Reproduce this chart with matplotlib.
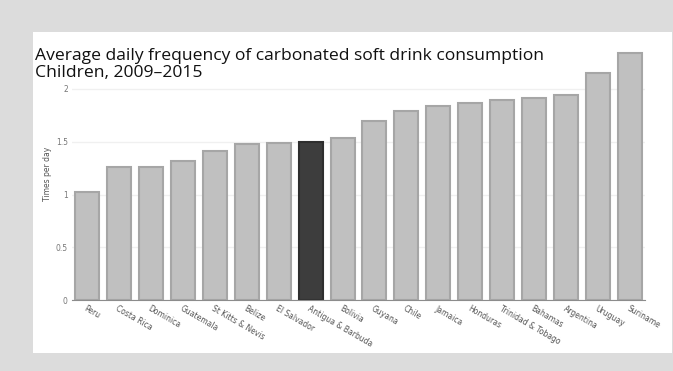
import matplotlib
matplotlib.use("Agg")
import matplotlib.pyplot as plt
from matplotlib.patches import Rectangle

# Average daily carbonated soft drink frequency, children 2009-2015
countries = ["Peru", "Costa Rica", "Dominica", "Guatemala", "St Kitts & Nevis",
             "Belize", "El Salvador", "Antigua & Barbuda", "Bolivia", "Guyana",
             "Chile", "Jamaica", "Honduras", "Trinidad & Tobago", "Bahamas",
             "Argentina", "Uruguay", "Suriname"]
times_per_day = [1.02, 1.26, 1.26, 1.32, 1.41, 1.48, 1.49, 1.50, 1.54, 1.70,
                 1.79, 1.84, 1.87, 1.90, 1.91, 1.94, 2.15, 2.34]
highlight = "Antigua & Barbuda"

W, H = 673, 371
fig = plt.figure(figsize=(W / 100, H / 100), dpi=100)
fig.patch.set_facecolor("#dcdcdc")

# white card behind the chart
fig.add_artist(Rectangle((33 / W, (H - 353) / H), (672 - 33) / W, (353 - 32) / H,
                         transform=fig.transFigure, facecolor="white",
                         edgecolor="none", zorder=0))

ax_left, ax_right = 72, 645
ax_top, ax_bot = 46.8, 300
ax = fig.add_axes([ax_left / W, (H - ax_bot) / H,
                   (ax_right - ax_left) / W, (ax_bot - ax_top) / H])
ax.set_facecolor("none")

x = range(len(countries))
colors = ["#3d3d3d" if c == highlight else "#c0c0c0" for c in countries]
edges = ["#2e2e2e" if c == highlight else "#a6a6a6" for c in countries]
ax.bar(x, times_per_day, width=0.75, color=colors, edgecolor=edges,
       linewidth=1.5, zorder=2)

ax.set_xlim(-0.47, len(countries) - 0.53)
ax.set_ylim(0, 2.4)
ax.set_yticks([0, 0.5, 1, 1.5, 2])
ax.set_yticklabels(["0", "0.5", "1", "1.5", "2"])
ax.grid(axis="y", color="#f0f0f0", linewidth=1, zorder=0)
ax.set_axisbelow(True)

for s in ["top", "right", "left"]:
    ax.spines[s].set_visible(False)
ax.spines["bottom"].set_color("#8c8c8c")
ax.spines["bottom"].set_zorder(3)

ax.tick_params(axis="y", length=0, labelsize=5.5, labelcolor="#777777", pad=3)
ax.tick_params(axis="x", length=0, pad=3)
ax.set_xticks(list(x))
ax.set_xticklabels(countries, rotation=-30, ha="left", rotation_mode="anchor",
                   fontsize=5.5, color="#555555")
ax.set_ylabel("Times per day", fontsize=5.5, color="#555555", labelpad=3)

fig.text(35 / W, (H - 60) / H, "Average daily frequency of carbonated soft drink consumption",
         fontsize=12.6, family="Open Sans", color="#111111", va="baseline")
fig.text(35 / W, (H - 77) / H, "Children, 2009\u20132015",
         fontsize=12.6, family="Open Sans", color="#111111", va="baseline")

fig.savefig("out.png", dpi=100, facecolor=fig.get_facecolor())
